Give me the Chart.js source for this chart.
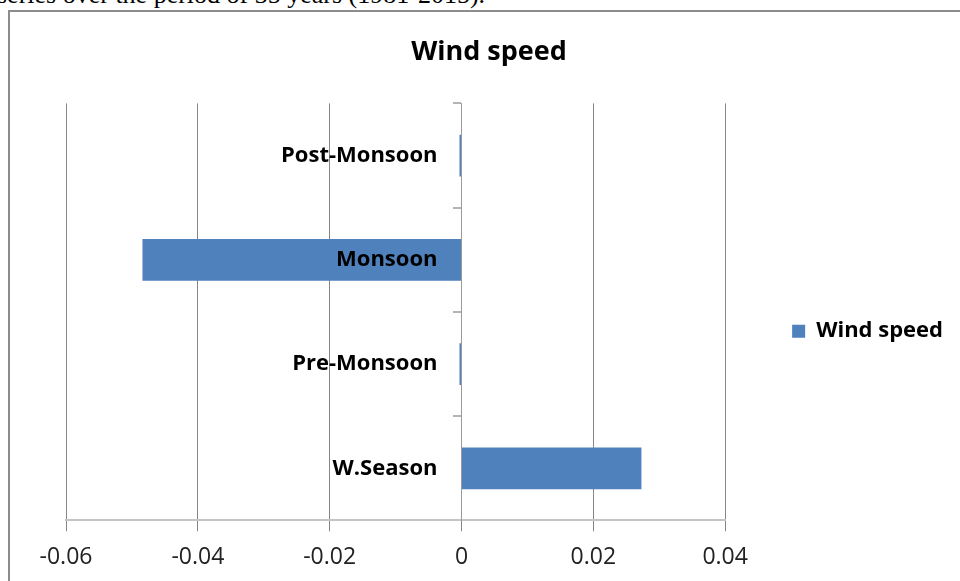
<!DOCTYPE html>
<html>
<head>
<meta charset="utf-8">
<script src="https://cdn.jsdelivr.net/npm/chart.js@4.4.0/dist/chart.umd.min.js"></script>
<style>
    html, body { margin: 0; padding: 0; background: #fff; overflow: hidden; width: 960px; height: 581px; }
    #caption { position: absolute; left: -3px; top: -18px; font: 26px/26px "Liberation Serif", serif; color: #000; white-space: nowrap; }
    #frame { position: absolute; left: 8px; top: 10px; width: 1000px; height: 700px; border: 2px solid #8c8c8c; box-sizing: border-box; }
    #wind_chart { position: absolute; left: 0; top: 0; }
</style>
</head>
<body>
<div id="caption">series over the period of 35 years (1981-2015).</div>
<div id="frame"></div>
<canvas id="wind_chart" width="960" height="600"></canvas>
<script>
const categories = ['W.Season', 'Pre-Monsoon', 'Monsoon', 'Post-Monsoon'];
const windSpeed = [0.0273, -0.0003, -0.0484, -0.0003];
const xTickLabels = ['-0.06', '-0.04', '-0.02', '0', '0.02', '0.04'];
const seriesName = 'Wind speed';

Chart.defaults.font.family = '"Open Sans", sans-serif';
Chart.defaults.color = '#000';

// category names sit just left of the zero line, on top of the bars
const insideLabels = {
    id: 'insideLabels',
    afterDatasetsDraw(chart) {
        const ctx = chart.ctx;
        const x = chart.scales.x;
        const y = chart.scales.y;
        const x0 = x.getPixelForValue(0) - 24;
        ctx.save();
        ctx.font = 'bold 22px "Open Sans"';
        ctx.fillStyle = '#000';
        ctx.textAlign = 'right';
        ctx.textBaseline = 'middle';
        for (let i = 0; i < categories.length; i++) {
            ctx.fillText(categories[i], x0, y.getPixelForValue(i));
        }
        ctx.restore();
    }
};

const data = {
    labels: categories,
    datasets: [{
        label: seriesName,
        data: windSpeed,
        backgroundColor: '#4f81bd',
        borderWidth: 0,
        categoryPercentage: 1,
        barPercentage: 0.4
    }]
};

const config = {
    type: 'bar',
    data: data,
    options: {
        indexAxis: 'y',
        responsive: false,
        animation: false,
        layout: {
            padding: { top: 26, left: 25, right: 7, bottom: 17 }
        },
        scales: {
            x: {
                min: -0.06,
                max: 0.04,
                ticks: {
                    stepSize: 0.02,
                    padding: 12,
                    color: '#222',
                    font: { size: 23 },
                    callback: (v, i) => xTickLabels[i]
                },
                grid: { color: '#868686', lineWidth: 1, tickLength: 11 },
                border: { color: '#c4c4c4', width: 2 },
                // keep the plot starting at x=66 while the title stays centred like the original
                afterFit: (scale) => { scale.paddingLeft = 66; }
            },
            y: {
                type: 'category',
                reverse: true,
                position: { x: 0 },
                ticks: { display: false },
                grid: { offset: true, drawOnChartArea: false, tickLength: 8, color: '#b4b4b4', lineWidth: 2 },
                border: { color: '#9a9a9a', width: 1 }
            }
        },
        plugins: {
            title: {
                display: true,
                text: seriesName,
                color: '#000',
                font: { size: 27, weight: 'bold' },
                padding: { top: 10, bottom: 35 }
            },
            legend: {
                position: 'right',
                fullSize: false,
                title: { display: true, text: ' ', font: { size: 13 }, padding: { top: 23, bottom: 0 } },
                labels: {
                    boxWidth: 13,
                    boxHeight: 13,
                    padding: 67,
                    color: '#000',
                    font: { size: 22, weight: 'bold' }
                }
            },
            tooltip: { enabled: false }
        }
    },
    plugins: [insideLabels]
};

new Chart(document.getElementById('wind_chart'), config);
</script>
</body>
</html>
